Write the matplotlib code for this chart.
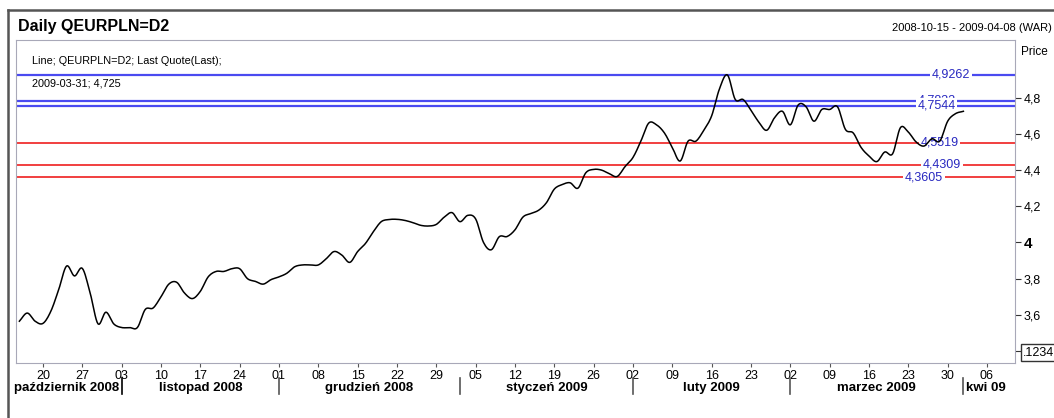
import numpy as np
import pandas as pd
import matplotlib
matplotlib.use('Agg')
import matplotlib.pyplot as plt
import matplotlib.ticker as ticker
from matplotlib.lines import Line2D

plt.rcParams['font.family'] = ['Liberation Sans Narrow', 'Liberation Sans', 'DejaVu Sans']

# dane: kurs EUR/PLN, dni robocze od 2008-10-15
start_date = '2008-10-15'
prices = [
    3.565, 3.61, 3.565, 3.553, 3.62, 3.74, 3.87, 3.815, 3.857, 3.72,
    3.55, 3.615, 3.55, 3.53, 3.53, 3.53, 3.63, 3.638, 3.70, 3.77,
    3.78, 3.72, 3.69, 3.73, 3.81, 3.84, 3.84, 3.855, 3.855, 3.80,
    3.785, 3.77, 3.795, 3.81, 3.83, 3.866, 3.876, 3.876, 3.876, 3.91,
    3.95, 3.93, 3.89, 3.95, 3.995, 4.06, 4.115, 4.127, 4.128, 4.122,
    4.11, 4.095, 4.091, 4.10, 4.14, 4.165, 4.115, 4.15, 4.13, 4.00,
    3.96, 4.032, 4.033, 4.07, 4.14, 4.16, 4.178, 4.22, 4.295, 4.32,
    4.33, 4.30, 4.385, 4.404, 4.40, 4.38, 4.365, 4.42, 4.47, 4.56,
    4.66, 4.65, 4.605, 4.525, 4.45, 4.56, 4.56, 4.62, 4.70, 4.85,
    4.926, 4.79, 4.79, 4.73, 4.665, 4.62, 4.69, 4.725, 4.65, 4.76,
    4.75, 4.67, 4.735, 4.735, 4.75, 4.625, 4.605, 4.525, 4.478, 4.447,
    4.50, 4.49, 4.635, 4.61, 4.555, 4.533, 4.573, 4.56, 4.67, 4.712,
    4.725,
]
blue_levels = [4.9262, 4.7832, 4.7544]
blue_label_x = [118.4, 116.6, 116.6]
red_levels = [4.5519, 4.4309, 4.3605]
red_label_x = [117.0, 117.3, 115.0]

days = pd.bdate_range(start_date, '2009-04-08')
x = np.arange(len(prices))


def smooth(xs, ys, n=8):
    # Catmull-Rom, zeby linia byla gladka jak w oryginale
    xs = np.asarray(xs, float)
    ys = np.asarray(ys, float)
    px = np.concatenate([[2 * xs[0] - xs[1]], xs, [2 * xs[-1] - xs[-2]]])
    py = np.concatenate([[2 * ys[0] - ys[1]], ys, [2 * ys[-1] - ys[-2]]])
    ox, oy = [], []
    t = np.linspace(0, 1, n, endpoint=False)
    for i in range(1, len(px) - 2):
        for arr, out in ((px, ox), (py, oy)):
            p0, p1, p2, p3 = arr[i - 1], arr[i], arr[i + 1], arr[i + 2]
            out.extend(0.5 * (2 * p1 + (-p0 + p2) * t + (2 * p0 - 5 * p1 + 4 * p2 - p3) * t ** 2
                              + (-p0 + 3 * p1 - 3 * p2 + p3) * t ** 3))
    ox.append(xs[-1])
    oy.append(ys[-1])
    return np.array(ox), np.array(oy)


fig = plt.figure(figsize=(10.54, 4.18), dpi=100)
ax = fig.add_axes([16 / 1054, 1 - 363 / 418, 999 / 1054, 323 / 418])

for lv in blue_levels:
    ax.axhline(lv, color='#4a4af0', lw=1.6, zorder=1)
for lv in red_levels:
    ax.axhline(lv, color='#f03030', lw=1.3, zorder=1)

for lv, lx in zip(blue_levels + red_levels, blue_label_x + red_label_x):
    ax.text(lx, lv, ('%.4f' % lv).replace('.', ','), color='#2828c0', fontsize=9,
            ha='center', va='center', zorder=2,
            bbox=dict(facecolor='white', edgecolor='none', pad=1.2))

sx, sy = smooth(x, prices)
ax.plot(sx, sy, color='black', lw=1.1, zorder=3)

ax.set_xlim(-0.43, 126.56)
ax.set_ylim(3.334, 5.119)

for sp in ax.spines.values():
    sp.set_color('#a8a8b8')

# os Y po prawej
ax.yaxis.tick_right()
yt = [3.4, 3.6, 3.8, 4.0, 4.2, 4.4, 4.6, 4.8]
ylab = ['.1234', '3,6', '3,8', '4', '4,2', '4,4', '4,6', '4,8']
ax.yaxis.set_major_locator(ticker.FixedLocator(yt))
ax.yaxis.set_major_formatter(ticker.FixedFormatter(ylab))
ax.tick_params(axis='y', direction='out', length=4, width=0.8, color='#333333',
               labelsize=9, pad=2)
for lbl in ax.get_yticklabels():
    if lbl.get_text() == '4':
        lbl.set_fontweight('bold')
        lbl.set_fontsize(11)
    if lbl.get_text() == '.1234':
        lbl.set_bbox(dict(facecolor='white', edgecolor='#333333', pad=1.5, lw=1))

# os X: poniedzialki
mondays = [i for i, d in enumerate(days) if d.weekday() == 0]
ax.xaxis.set_major_locator(ticker.FixedLocator(mondays))
ax.xaxis.set_major_formatter(ticker.FixedFormatter([days[i].strftime('%d') for i in mondays]))
ax.tick_params(axis='x', direction='out', length=3, width=0.8, color='#555555',
               labelsize=9, pad=2)

# miesiace
month_names = {10: 'październik 2008', 11: 'listopad 2008', 12: 'grudzień 2008',
               1: 'styczeń 2009', 2: 'luty 2009', 3: 'marzec 2009', 4: 'kwi 09'}
firsts = [i for i in range(1, len(days)) if days[i].month != days[i - 1].month]
tr = ax.get_xaxis_transform()
for k, b in enumerate(firsts):
    col = 'black' if k == 0 else '#555555'
    ax.plot([b, b], [-0.046, -0.095], color=col, lw=1.2, transform=tr, clip_on=False)
bounds = [0] + firsts + [len(days) + 1]
mfs = 9.5
for k in range(len(bounds) - 1):
    m = days[bounds[k]].month
    if k == 0:
        ax.text(bounds[1] - 0.3, -0.078, month_names[m], transform=tr, ha='right', va='center',
                fontsize=mfs, fontweight='bold')
    elif k == len(bounds) - 2:
        ax.text(bounds[k] + 0.3, -0.078, month_names[m], transform=tr, ha='left', va='center',
                fontsize=mfs, fontweight='bold')
    else:
        ax.text((bounds[k] + bounds[k + 1]) / 2, -0.078, month_names[m], transform=tr,
                ha='center', va='center', fontsize=mfs, fontweight='bold')

# legenda
ax.text(0.016, 0.935, 'Line; QEURPLN=D2; Last Quote(Last);', transform=ax.transAxes,
        fontsize=7.8, va='center', ha='left')
ax.text(0.016, 0.866, '2009-03-31; 4,725', transform=ax.transAxes,
        fontsize=7.8, va='center', ha='left')

# naglowek
fig.text(18 / 1054, 1 - 26 / 418, 'Daily QEURPLN=D2', fontsize=11.5, fontweight='bold',
         va='center', ha='left')
fig.text(1052 / 1054, 1 - 28 / 418, '2008-10-15 - 2009-04-08 (WAR)', fontsize=8,
         va='center', ha='right')
fig.text(1021 / 1054, 1 - 52 / 418, 'Price', fontsize=8.5, va='center', ha='left')

# ramka
fig.add_artist(Line2D([8 / 1054, 1], [1 - 10 / 418, 1 - 10 / 418], color='#555555', lw=1.8))
fig.add_artist(Line2D([8 / 1054, 8 / 1054], [0, 1 - 10 / 418], color='#555555', lw=1.8))

fig.savefig('out.png', dpi=100)
